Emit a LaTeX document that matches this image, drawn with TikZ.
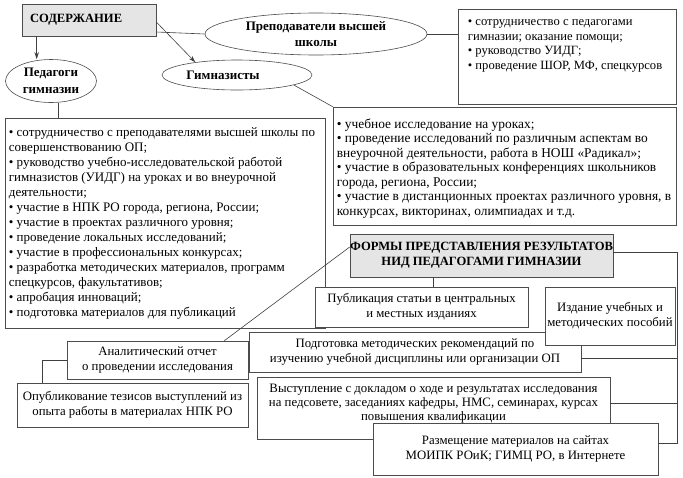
\documentclass[tikz,border=0pt]{standalone}
\usepackage{fontspec}
\setmainfont{Liberation Serif}
\usetikzlibrary{shapes.geometric,shadows,arrows.meta}
\tikzset{
  ln/.style={draw=black!75, line width=0.6pt},
  arr/.style={ln, -{Stealth[length=7pt,width=4.5pt]}},
  box/.style={rectangle, draw=black!70, line width=0.6pt, fill=white, inner sep=0pt,
    drop shadow={shadow xshift=1.2pt, shadow yshift=-1.2pt, fill=black!25, opacity=1}},
  hbox/.style={box, fill=black!10},
  ell/.style={ellipse, draw=black!70, line width=0.6pt, fill=white, inner sep=0pt,
    font=\fontsize{13}{16.5}\selectfont\bfseries, align=center},
  txt/.style={inner sep=0pt, align=left},
  ctxt/.style={align=center, inner sep=0pt, font=\fontsize{12.8}{15}\selectfont},
  htxt/.style={font=\fontsize{12.6}{15}\selectfont\bfseries},
}
\begin{document}
\begin{tikzpicture}[x=1pt,y=-1pt]
\useasboundingbox (0,0) rectangle (683,477);

% top part
\node[hbox, minimum width=134pt, minimum height=32pt, htxt, text width=118pt, align=left] (cont) at (89,20) {СОДЕРЖАНИЕ};
\node[ell, minimum width=222pt, minimum height=42pt] (prep) at (316,34) {Преподаватели высшей\\школы};
\node[ell, minimum width=91pt, minimum height=43pt] (ped) at (51,81) {Педагоги\\гимназии};
\node[ell, minimum width=150pt, minimum height=30pt] (gym) at (237,75) {\hspace*{-28pt}Гимназисты};

\node[box, minimum width=218pt, minimum height=95pt] (boxT) at (567,56.5) {};
\node[txt, anchor=north west, font=\fontsize{12.6}{14.7}\selectfont] (boxTt) at ([xshift=10pt,yshift=-10.5pt]boxT.north west) {%
\textbullet{} сотрудничество с педагогами\\
гимназии; оказание помощи;\\
\textbullet{} руководство УИДГ;\\
\textbullet{} проведение ШОР, МФ, спецкурсов};

\node[box, minimum width=343pt, minimum height=118pt] (boxG) at (504.5,166) {};
\node[txt, anchor=west, font=\fontsize{13.4}{14.5}\selectfont] (boxGt) at ([xshift=4pt,yshift=-2.5pt]boxG.west) {%
\textbullet{} учебное исследование на уроках;\\
\textbullet{} проведение исследований по различным аспектам во\\
внеурочной деятельности, работа в НОШ «Радикал»;\\
\textbullet{} участие в образовательных конференциях школьников\\
города, региона, России;\\
\textbullet{} участие в дистанционных проектах различного уровня, в\\
конкурсах, викторинах, олимпиадах и т.д.};

\node[box, minimum width=320pt, minimum height=210pt] (boxP) at (165,223) {};
\node[txt, anchor=west, font=\fontsize{13}{15}\selectfont] (boxPt) at ([xshift=4pt,yshift=-0.5pt]boxP.west) {%
\textbullet{} сотрудничество с преподавателями высшей школы по\\
совершенствованию ОП;\\
\textbullet{} руководство учебно-исследовательской работой\\
гимназистов (УИДГ) на уроках и во внеурочной\\
деятельности;\\
\textbullet{} участие в НПК РО города, региона, России;\\
\textbullet{} участие в проектах различного уровня;\\
\textbullet{} проведение локальных исследований;\\
\textbullet{} участие в профессиональных конкурсах;\\
\textbullet{} разработка методических материалов, программ\\
спецкурсов, факультативов;\\
\textbullet{} апробация инноваций;\\
\textbullet{} подготовка материалов для публикаций};

% top connectors
\draw[arr] ([xshift=15pt]cont.south west) -- ([xshift=15pt]cont.south west |- ped.north);
\draw[arr] ([yshift=-2pt]cont.east) -- (gym.163);
\draw[ln] ([yshift=-12pt]cont.east) -- (prep.west);
\draw[ln] (prep.east) -- (prep.east -| boxT.west);
\draw[ln] (gym.-10) -- (boxG.north west);
\draw[ln] ([xshift=7pt]ped.south) -- ([xshift=7pt]ped.south |- boxP.north);

% bottom part
\node[hbox, minimum width=263pt, minimum height=43pt, htxt, align=center] (formy) at (481.5,255.5) {ФОРМЫ ПРЕДСТАВЛЕНИЯ РЕЗУЛЬТАТОВ\\НИД ПЕДАГОГАМИ ГИМНАЗИИ};
\node[box, minimum width=213pt, minimum height=40pt, ctxt] (publ) at (421.5,307) {Публикация статьи в центральных\\и местных изданиях};
\node[box, minimum width=332pt, minimum height=40pt, ctxt] (podg) at (415,352) {Подготовка методических рекомендаций по\\изучению учебной дисциплины или организации ОП};
\node[box, minimum width=130pt, minimum height=58pt, ctxt] (izd) at (610,316) {Издание учебных и\\методических пособий};
\node[box, minimum width=181pt, minimum height=38pt, ctxt] (anal) at (157.5,360) {Аналитический отчет\\о проведении исследования};
\node[box, minimum width=231pt, minimum height=44pt, ctxt] (opub) at (132.5,405) {Опубликование тезисов выступлений из\\опыта работы в материалах НПК РО};
\node[box, minimum width=353pt, minimum height=62pt] (vyst) at (433.5,408) {};
\node[ctxt, font=\fontsize{12.8}{14}\selectfont] (vystt) at ([yshift=4pt]vyst.center) {Выступление с докладом о ходе и результатах исследования\\на педсовете, заседаниях кафедры, НМС, семинарах, курсах\\повышения квалификации};
\node[box, minimum width=285pt, minimum height=52pt, ctxt] (razm) at (515.5,449) {Размещение материалов на сайтах\\МОИПК РОиК; ГИМЦ РО, в Интернете};

% bottom connectors
\coordinate (br) at (677,252);
\coordinate (podgS) at ([yshift=-6pt]podg.east);
\coordinate (vystS) at ([yshift=5pt]vyst.east);
\coordinate (razmS) at ([yshift=6pt]razm.east);
\draw[ln] ([yshift=3.5pt]formy.east) -- (br) -- (br |- razmS) -- (razmS);
\draw[ln] (podgS) -- (podgS -| br);
\draw[ln] (vystS) -- (vystS -| br);
\draw[ln] ([xshift=-48.5pt]formy.south) -- ([xshift=-48.5pt]formy.south |- publ.north);
\draw[ln] ([yshift=8.5pt]formy.west) -- ([xshift=-24pt]anal.north east);
\draw[ln] (anal.west) -| ([xshift=26pt]opub.north west);
\end{tikzpicture}
\end{document}
